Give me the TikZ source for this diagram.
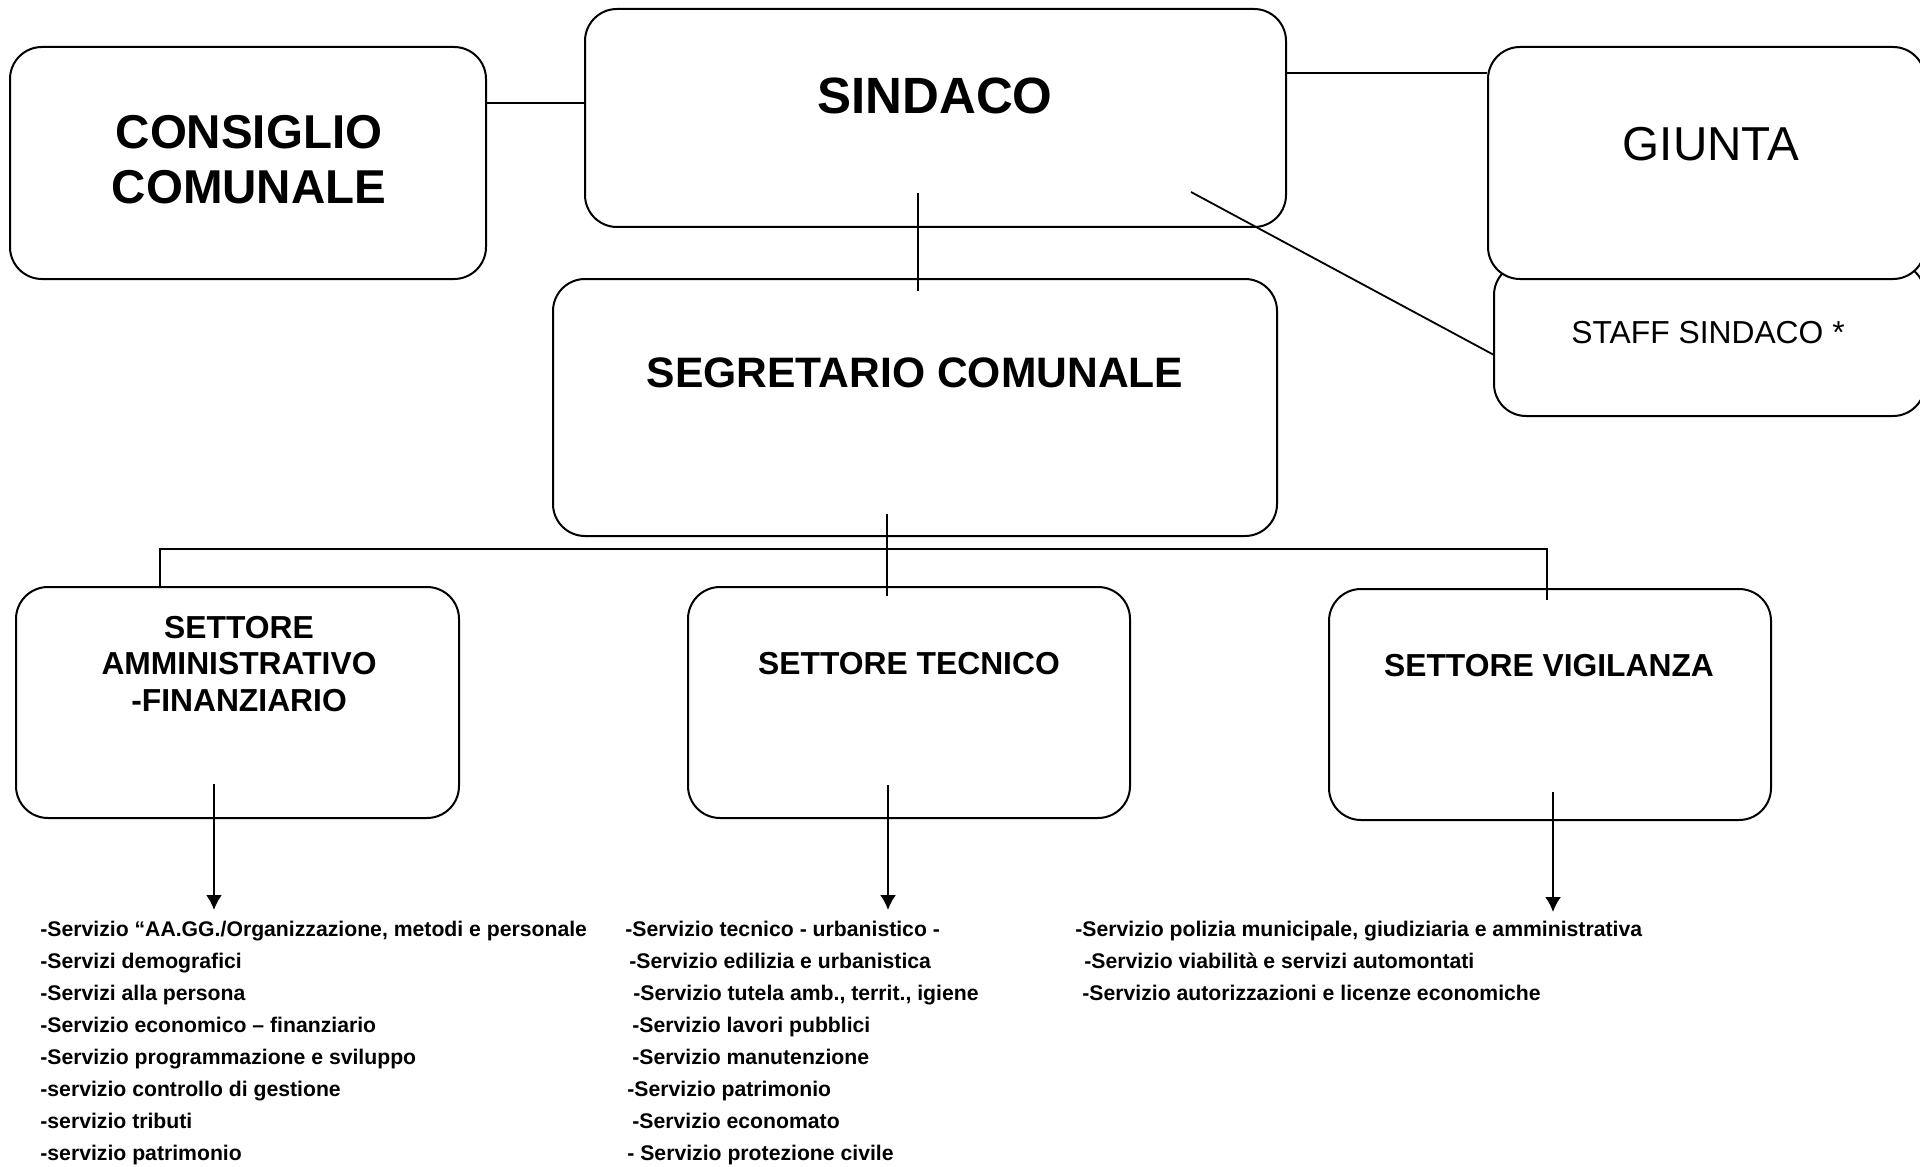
\documentclass[tikz,border=0pt]{standalone}
\usepackage{fontspec}
\setmainfont{Liberation Sans}
\usetikzlibrary{fit,arrows.meta}

\tikzset{
  casella/.style={draw, line width=1pt, rounded corners=16pt, fill=white, inner sep=0pt},
  titolo/.style 2 args={font=\fontsize{#1}{#2}\selectfont\bfseries, align=center, inner sep=0pt},
  titoloreg/.style 2 args={font=\fontsize{#1}{#2}\selectfont, align=center, inner sep=0pt},
  voce/.style={font=\fontsize{10.6}{12}\selectfont\bfseries, anchor=base west, inner sep=0pt},
  linea/.style={line width=0.9pt},
  freccia/.style={line width=1pt, -{Latex[length=7.5pt,width=8pt]}},
}

\begin{document}
\begin{tikzpicture}[x=0.5pt,y=-0.5pt]
\useasboundingbox (0,0) rectangle (1920,1166);

% caselle
\node[casella, fit={(10,47) (486,279)}] (consiglio) {};
\node[casella, fit={(585,9) (1286,227)}] (sindaco) {};
\node[casella, fit={(1494,263) (1925,416)}] (staff) {};
\node[casella, fit={(1488,47) (1925,279)}] (giunta) {};
\node[casella, fit={(553,279) (1277,536)}] (segretario) {};
\node[casella, fit={(16,587) (459,818)}] (setAmm) {};
\node[casella, fit={(688,587) (1130,818)}] (setTec) {};
\node[casella, fit={(1329,589) (1771,820)}] (setVig) {};

% testi delle caselle
\node[titolo={23.75}{27.5}] (consiglioT) at (249,160) {CONSIGLIO\\COMUNALE};
\node[titolo={25.5}{30}] (sindacoT) at (935,96) {SINDACO};
\node[titoloreg={23.8}{28}] (giuntaT) at (1711,144) {GIUNTA};
\node[titoloreg={15.9}{18.3}] (staffT) at (1708,333) {STAFF SINDACO *};
\node[titolo={21.3}{25}] (segretarioT) at (915,373) {SEGRETARIO COMUNALE};
\node[titolo={15.9}{18.3}] (setAmmT) at (239,664) {SETTORE\\AMMINISTRATIVO\\-FINANZIARIO};
\node[titolo={15.9}{18.3}] (setTecT) at (909,664) {SETTORE TECNICO};
\node[titolo={15.9}{18.3}] (setVigT) at (1549,666) {SETTORE VIGILANZA};

% collegamenti in alto
\coordinate (a1) at (486,103);
\draw[linea] (a1) -- (a1 -| sindaco.west);
\coordinate (a2) at (1286,73);
\draw[linea] (a2) -- (a2 -| giunta.west);
\coordinate (a3) at (1191,192);
\coordinate (a4) at (1494,355);
\draw[linea] (a3) -- (a4);
\coordinate (a5) at (918,193);
\coordinate (a6) at (918,291);
\draw[linea] (a5) -- (a6);

% linea verso i settori
\coordinate (b0) at (887,514);
\coordinate (b1) at (887,596);
\draw[linea] (b0) -- (b1);
\coordinate (bus) at (0,549);
\coordinate (b2) at (160,588);
\coordinate (b3) at (1547,600);
\draw[linea] (b2) -- (b2 |- bus) -- (b3 |- bus) -- (b3);

% frecce
\foreach \x/\ya/\yb [count=\i] in {214/784/910, 888/785/910, 1553/792/912}{
  \coordinate (f\i) at (\x,\ya);
  \coordinate (g\i) at (\x,\yb);
  \draw[freccia] (f\i) -- (g\i);
}

% servizi
\foreach \t [count=\i] in {{-Servizio “AA.GG./Organizzazione, metodi e personale},
    -Servizi demografici, -Servizi alla persona, -Servizio economico – finanziario,
    -Servizio programmazione e sviluppo, -servizio controllo di gestione,
    -servizio tributi, -servizio patrimonio}
  \node[voce] (amm\i) at (40,{936+32*(\i-1)}) {\t};

\foreach \x/\t [count=\i] in {625/{-Servizio tecnico - urbanistico -},
    629/{-Servizio edilizia e urbanistica}, 633/{-Servizio tutela amb., territ., igiene},
    632/{-Servizio lavori pubblici}, 632/{-Servizio manutenzione},
    627/{-Servizio patrimonio}, 632/{-Servizio economato},
    627/{- Servizio protezione civile}}
  \node[voce] (tec\i) at (\x,{936+32*(\i-1)}) {\t};

\foreach \x/\t [count=\i] in {1075/{-Servizio polizia municipale, giudiziaria e amministrativa},
    1084/{-Servizio viabilità e servizi automontati},
    1082/{-Servizio autorizzazioni e licenze economiche}}
  \node[voce] (vig\i) at (\x,{936+32*(\i-1)}) {\t};
\end{tikzpicture}
\end{document}
